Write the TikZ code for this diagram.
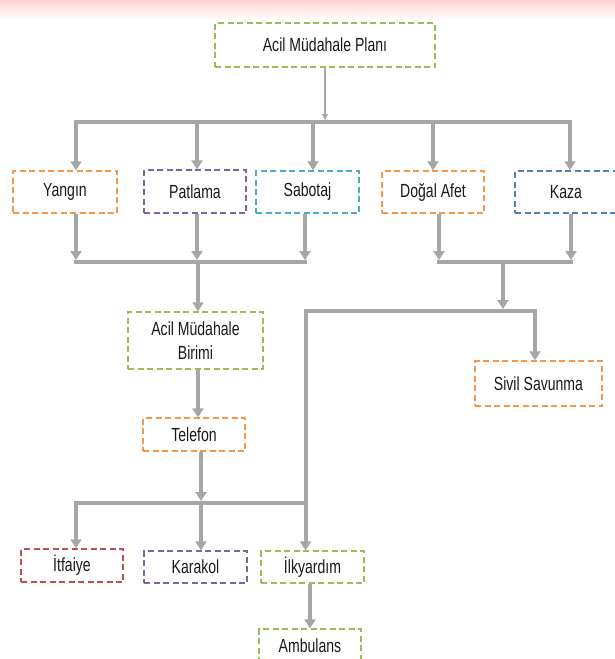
\documentclass[tikz,border=0pt]{standalone}
\usepackage{fontspec}
\setmainfont{Liberation Sans}[FakeStretch=0.74]
\usepackage{xcolor}
\usetikzlibrary{arrows.meta,positioning,calc}

\definecolor{flowgray}{HTML}{A6A6A6}
\definecolor{boxgreen}{HTML}{9BBB59}
\definecolor{boxorange}{HTML}{F79646}
\definecolor{boxpurple}{HTML}{8064A2}
\definecolor{boxteal}{HTML}{4BACC6}
\definecolor{boxblue}{HTML}{4F81BD}
\definecolor{boxred}{HTML}{C0504D}

\begin{document}
\begin{tikzpicture}[
  x=1pt,y=-1pt,
  font=\fontsize{19}{24}\selectfont,
  box/.style={draw, dash pattern=on 6pt off 3.5pt, line width=1.4pt, align=center, text=black!90, inner sep=0pt},
  greenbox/.style={box, draw=boxgreen},
  orangebox/.style={box, draw=boxorange},
  purplebox/.style={box, draw=boxpurple},
  tealbox/.style={box, draw=boxteal},
  bluebox/.style={box, draw=boxblue},
  redbox/.style={box, draw=boxred},
  flow/.style={-{Triangle[width=11pt,length=9pt]}, line width=4pt, flowgray},
  link/.style={-{Triangle[width=6pt,length=6pt]}, line width=1.5pt, flowgray},
  bus/.style={line width=4pt, flowgray, line cap=rect}
]
\useasboundingbox (0,0) rectangle (615,659);
\shade[top color=red!18, bottom color=white] (0,0) rectangle (615,20);

% plan and the five kinds of emergency
\node[greenbox, minimum width=220, minimum height=44] (plan) at (325,45) {Acil Müdahale Planı};
\node[orangebox, minimum width=104, minimum height=42] (yangin) at (65,192) {Yangın};
\node[purplebox, minimum width=102, minimum height=43] (patlama) at (195,191.5) {Patlama};
\node[tealbox, minimum width=103, minimum height=42] (sabotaj) at (307.5,192) {Sabotaj};
\node[orangebox, minimum width=102, minimum height=42] (dogal) at (433,192) {Doğal Afet};
\node[bluebox, minimum width=102, minimum height=42] (kaza) at (566,192) {Kaza};

% responders
\node[greenbox, minimum width=135, minimum height=57] (birim) at (195.5,340.5) {Acil Müdahale\\Birimi};
\node[orangebox, minimum width=102, minimum height=33] (telefon) at (194,434.5) {Telefon};
\node[orangebox, minimum width=127, minimum height=45] (sivil) at (538.5,383.5) {Sivil Savunma};
\node[redbox, minimum width=102, minimum height=33] (itfaiye) at (72,565.5) {İtfaiye};
\node[purplebox, minimum width=103, minimum height=32] (karakol) at (195.5,567) {Karakol};
\node[greenbox, minimum width=103, minimum height=32] (ilkyardim) at (312.5,567) {İlkyardım};
\node[greenbox, minimum width=102, minimum height=34] (ambulans) at (310,646) {Ambulans};

\coordinate (topbus) at (325,122);
\coordinate (leftbus) at (198,262);
\coordinate (rightbus) at (503,262);
\coordinate (midbus) at (503,311);
\coordinate (lowbus) at (201,503);

\draw[flow] (topbus) -| ([xshift=11pt]yangin.north);
\draw[flow] (topbus) -| ([xshift=4pt]kaza.north);
\draw[flow] (topbus) -| ([xshift=2pt]patlama.north);
\draw[flow] (topbus) -| ([xshift=5.5pt]sabotaj.north);
\draw[flow] (topbus) -| (dogal.north);
\draw[link, shorten >=2pt] (plan) -- (topbus);

% left group goes to the unit
\draw[flow, shorten >=2pt] ([xshift=11pt]yangin.south) -- ([xshift=11pt]yangin.south |- leftbus);
\draw[flow, shorten >=2pt] ([xshift=2pt]patlama.south) -- ([xshift=2pt]patlama.south |- leftbus);
\draw[flow, shorten >=2pt] ([xshift=-2.5pt]sabotaj.south) -- ([xshift=-2.5pt]sabotaj.south |- leftbus);
\draw[bus] ([xshift=11pt]yangin.south |- leftbus) -- ([xshift=-2.5pt]sabotaj.south |- leftbus);
\draw[flow] (leftbus) -- (birim.north -| leftbus);

% right group
\draw[flow, shorten >=2pt] ([xshift=6pt]dogal.south) -- ([xshift=6pt]dogal.south |- rightbus);
\draw[flow, shorten >=2pt] ([xshift=5pt]kaza.south) -- ([xshift=5pt]kaza.south |- rightbus);
\draw[bus] ([xshift=6pt]dogal.south |- rightbus) -- ([xshift=5pt]kaza.south |- rightbus);
\draw[flow, shorten >=2pt] (rightbus) -- (midbus);
\draw[flow] (midbus) -| ([xshift=-3.5pt]sivil.north);
\draw[flow] (midbus) -| ([xshift=-7pt]ilkyardim.north);

\draw[flow] ([xshift=2.5pt]birim.south) -- ([xshift=2.5pt]birim.south |- telefon.north);
\draw[flow, shorten >=2pt] (telefon.south -| lowbus) -- (lowbus);
\draw[bus] (lowbus) -- ([xshift=-7pt]ilkyardim.north |- lowbus);
\draw[flow] (lowbus) -| ([xshift=4pt]itfaiye.north);
\draw[flow] (lowbus) -- (karakol.north -| lowbus);
\draw[flow] (ilkyardim.south -| ambulans.north) -- (ambulans.north);
\end{tikzpicture}
\end{document}
